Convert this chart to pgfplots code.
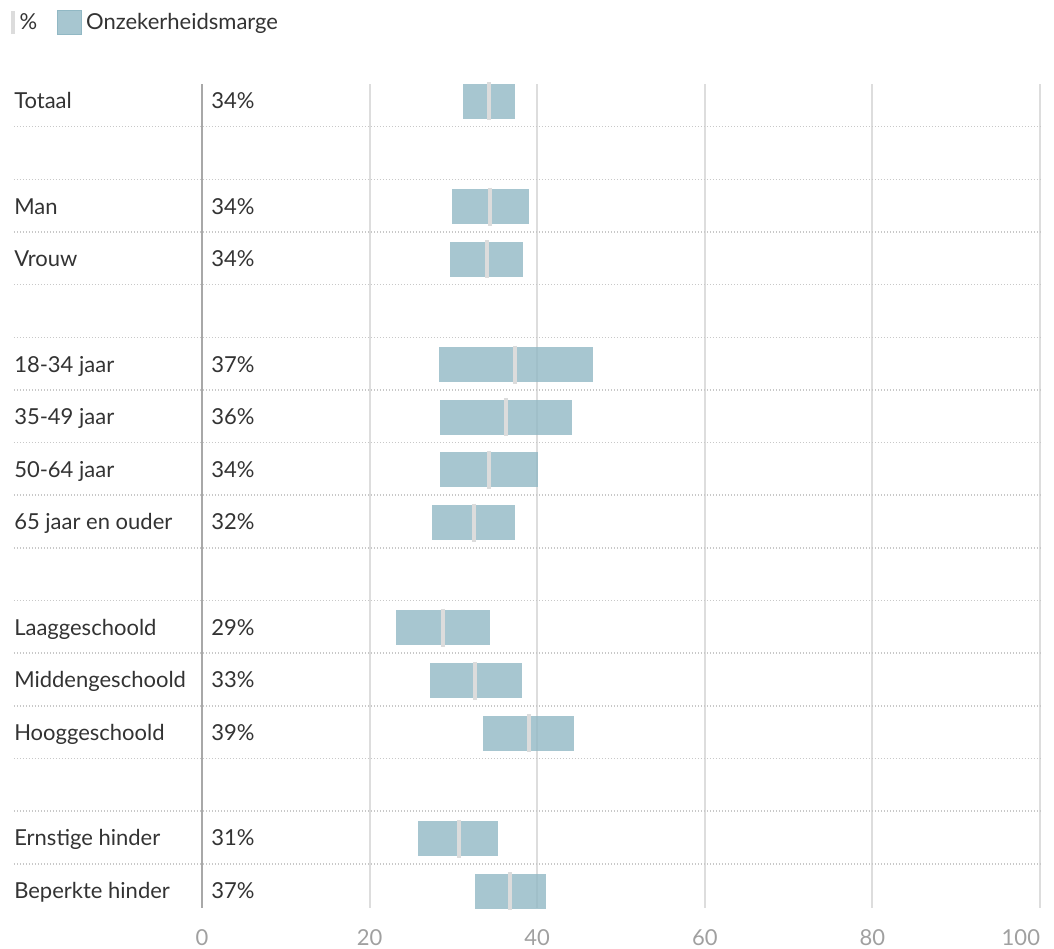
\documentclass[border=0pt]{standalone}
\usepackage{pgfplots}
\pgfplotsset{compat=1.18}
\usepackage{pgfplotstable}
\usepackage{fontspec}
\setmainfont{Lato}
\definecolor{barcol}{HTML}{91B8C4}
\definecolor{markcol}{HTML}{DCDCDC}
\definecolor{txtcol}{HTML}{333333}
\definecolor{tickcol}{HTML}{A0A0A0}
\definecolor{gridcol}{HTML}{DDDDDD}
\definecolor{axcol}{HTML}{A8A8A8}
\definecolor{dotcol}{HTML}{C8C8C8}

\pgfplotstableread{
row lo hi val
0 31.2 37.4 34.3
2 29.85 39.0 34.4
3 29.6 38.3 34.0
5 28.3 46.6 37.4
6 28.4 44.2 36.3
7 28.4 40.1 34.3
8 27.5 37.3 32.4
10 23.2 34.4 28.8
11 27.2 38.2 32.6
12 33.5 44.4 39.0
14 25.8 35.3 30.7
15 32.6 41.1 36.8
}\data

\begin{document}
\begin{tikzpicture}
\useasboundingbox (0,0) rectangle (527pt,474pt);
\begin{axis}[
  at={(101pt,20pt)}, anchor=south west,
  scale only axis, width=419pt, height=412pt,
  xmin=0, xmax=100, ymin=-0.33, ymax=15.32,
  y dir=reverse,
  clip=false,
  axis line style={draw=none},
  xtick={20,40,60,80,100},
  xticklabels={20,40,60,80,\llap{100}},
  extra x ticks={0},
  extra x tick style={grid style={axcol, line width=1pt}},
  ytick=\empty,
  major tick length=0pt,
  xmajorgrids,
  grid style={gridcol, line width=1pt},
  xticklabel style={anchor=center, yshift=-15pt, text=tickcol, font=\fontsize{11}{13}\selectfont},
  /pgf/number format/assume math mode=true,
  legend columns=-1,
  legend style={at={(-0.2275,1.0918)}, anchor=north west, draw=none, fill=none,
    inner sep=0pt, outer sep=0pt,
    font=\fontsize{11}{13}\selectfont, text=txtcol,
    nodes={inner sep=2.3pt},
    /tikz/every even column/.append style={column sep=7.5pt}},
]
% separators
\pgfplotsinvokeforeach{0.48,1.48,2.48,3.48,4.48,5.48,6.48,7.48,8.48,9.48,10.48,11.48,12.48,13.48,14.48}{
  \draw[dotcol, line width=0.75pt, dash pattern=on 0.75pt off 0.75pt] (axis cs:-22.45,#1) -- (axis cs:100,#1);
}
\addlegendimage{legend image code/.code={\draw[markcol, line width=1.8pt] (0pt,-5.8pt) -- (0pt,5.8pt);}}
\addlegendentry{\%}
\addlegendimage{legend image code/.code={\fill[barcol, fill opacity=0.8] (0pt,-6pt) rectangle (12pt,6pt);}}
\addlegendentry{Onzekerheidsmarge}
% uncertainty bars (interval lo..hi)
\addplot[only marks, mark=*, mark size=0pt, mark options={draw=none, fill=none}, forget plot,
  error bars/.cd, x dir=both, x explicit, error mark=none,
  error bar style={draw=barcol, draw opacity=0.8, line width=17.5pt, line cap=butt}]
  table[x=val, y=row, x error plus expr=\thisrow{hi}-\thisrow{val}, x error minus expr=\thisrow{val}-\thisrow{lo}] {\data};
% point estimate markers
\addplot[only marks, mark=|, mark size=9.5pt, mark options={draw=markcol, line width=2pt}, forget plot] table[x=val, y=row] {\data};
% labels
\begin{scope}[every node/.style={anchor=base west, inner sep=0pt, text=txtcol, font=\fontsize{11}{13}\selectfont}]
\node at (axis cs:-22.45,0.14) {Totaal};
\node at (axis cs:-22.45,2.14) {Man};
\node at (axis cs:-22.45,3.14) {Vrouw};
\node at (axis cs:-22.45,5.14) {18-34 jaar};
\node at (axis cs:-22.45,6.14) {35-49 jaar};
\node at (axis cs:-22.45,7.14) {50-64 jaar};
\node at (axis cs:-22.45,8.14) {65 jaar en ouder};
\node at (axis cs:-22.45,10.14) {Laaggeschoold};
\node at (axis cs:-22.45,11.14) {Middengeschoold};
\node at (axis cs:-22.45,12.14) {Hooggeschoold};
\node at (axis cs:-22.45,14.14) {Ernstige hinder};
\node at (axis cs:-22.45,15.14) {Beperkte hinder};
\node at (axis cs:1.07,0.14) {34\%};
\node at (axis cs:1.07,2.14) {34\%};
\node at (axis cs:1.07,3.14) {34\%};
\node at (axis cs:1.07,5.14) {37\%};
\node at (axis cs:1.07,6.14) {36\%};
\node at (axis cs:1.07,7.14) {34\%};
\node at (axis cs:1.07,8.14) {32\%};
\node at (axis cs:1.07,10.14) {29\%};
\node at (axis cs:1.07,11.14) {33\%};
\node at (axis cs:1.07,12.14) {39\%};
\node at (axis cs:1.07,14.14) {31\%};
\node at (axis cs:1.07,15.14) {37\%};
\end{scope}
\end{axis}
\end{tikzpicture}
\end{document}
